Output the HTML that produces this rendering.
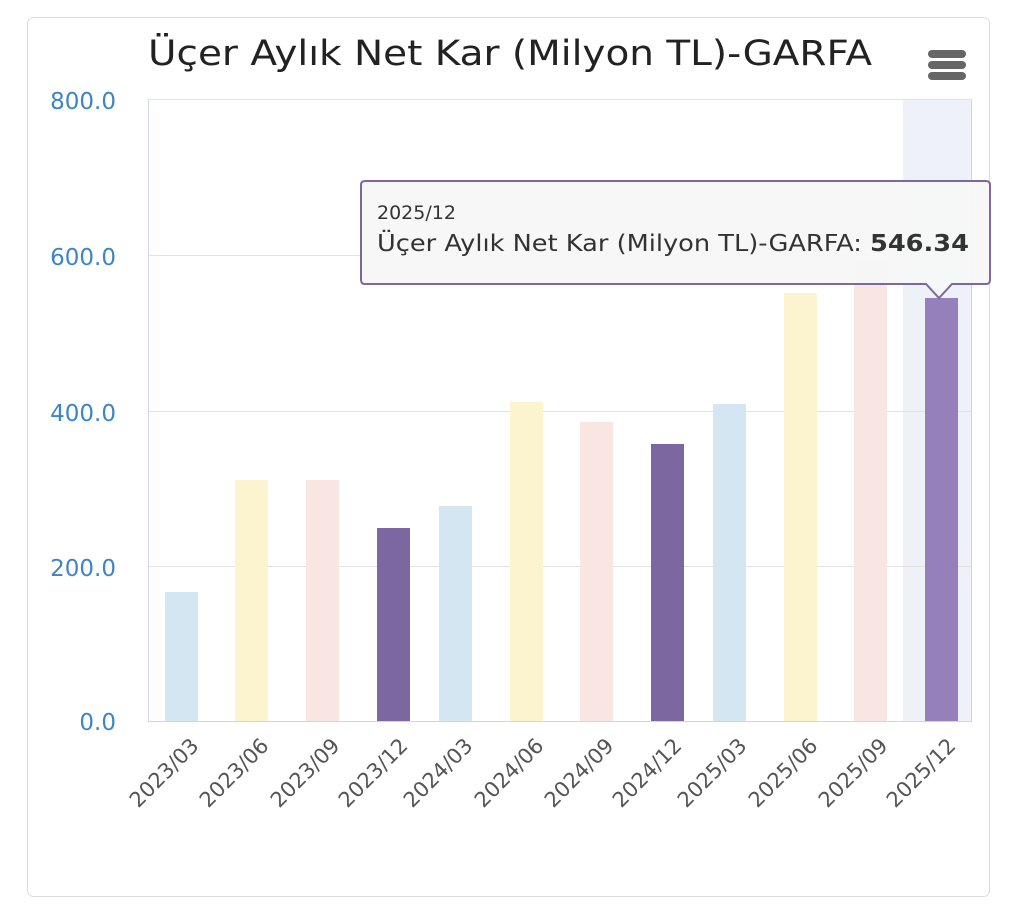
<!DOCTYPE html>
<html><head><meta charset="utf-8"><style>
html,body{margin:0;padding:0;background:#fff;}
svg{display:block;font-family:"DejaVu Sans","Liberation Sans",sans-serif;}
</style></head><body>
<svg width="1024" height="920" xmlns="http://www.w3.org/2000/svg">
<rect x="27.5" y="17.5" width="962" height="879" rx="6" fill="#fff" stroke="#ddd"/>
<text x="148" y="65" font-size="35" fill="#222" textLength="724" lengthAdjust="spacingAndGlyphs">Üçer Aylık Net Kar (Milyon TL)-GARFA</text>
<g fill="#666"><rect x="928" y="50" width="38" height="8" rx="4"/><rect x="928" y="61" width="38" height="8" rx="4"/><rect x="928" y="72" width="38" height="8" rx="4"/></g>
<rect x="903" y="99" width="69" height="622" fill="#eef2f8"/>
<g stroke="#e3e3e3"><line x1="148" y1="99.5" x2="972" y2="99.5"/><line x1="148" y1="255.5" x2="972" y2="255.5"/><line x1="148" y1="411.5" x2="972" y2="411.5"/><line x1="148" y1="566.5" x2="972" y2="566.5"/></g>
<line x1="148.5" y1="99" x2="148.5" y2="721" stroke="#ccd6eb"/>
<line x1="971.5" y1="99" x2="971.5" y2="721" stroke="#ccd6eb"/>
<g>
<rect x="165" y="592" width="33" height="129" fill="#d4e6f1"/>
<rect x="235" y="480" width="33" height="241" fill="#fcf3cf"/>
<rect x="306" y="480" width="33" height="241" fill="#f9e5e1"/>
<rect x="377" y="528" width="33" height="193" fill="#7d67a0"/>
<rect x="439" y="506" width="33" height="215" fill="#d4e6f1"/>
<rect x="510" y="402" width="33" height="319" fill="#fcf3cf"/>
<rect x="580" y="422" width="33" height="299" fill="#f9e5e1"/>
<rect x="651" y="444" width="33" height="277" fill="#7d67a0"/>
<rect x="713" y="404" width="33" height="317" fill="#d4e6f1"/>
<rect x="784" y="293" width="33" height="428" fill="#fcf3cf"/>
<rect x="854" y="262" width="33" height="459" fill="#f9e5e1"/>
<rect x="925" y="298" width="33" height="423" fill="#9580bb"/>
</g>
<line x1="148" y1="721.5" x2="972" y2="721.5" stroke="#ccd6eb"/>
<g font-size="23" fill="#3d85c6" text-anchor="end">
<text x="116" y="109">800.0</text><text x="116" y="265">600.0</text><text x="116" y="421">400.0</text><text x="116" y="576">200.0</text><text x="116" y="730">0.0</text>
</g>
<g font-size="21" fill="#555" text-anchor="end">
<text transform="translate(200,747) rotate(-45)">2023/03</text>
<text transform="translate(270,747) rotate(-45)">2023/06</text>
<text transform="translate(341,747) rotate(-45)">2023/09</text>
<text transform="translate(409,747) rotate(-45)">2023/12</text>
<text transform="translate(474,747) rotate(-45)">2024/03</text>
<text transform="translate(545,747) rotate(-45)">2024/06</text>
<text transform="translate(615,747) rotate(-45)">2024/09</text>
<text transform="translate(683,747) rotate(-45)">2024/12</text>
<text transform="translate(748,747) rotate(-45)">2025/03</text>
<text transform="translate(819,747) rotate(-45)">2025/06</text>
<text transform="translate(889,747) rotate(-45)">2025/09</text>
<text transform="translate(957,747) rotate(-45)">2025/12</text>
</g>
<path d="M365,181 H986 Q990,181 990,185 V280 Q990,284 986,284 H952 L939,298 L926,284 H365 Q361,284 361,280 V185 Q361,181 365,181 Z" fill="#f7f7f7" fill-opacity="0.94" stroke="#7d67a0" stroke-width="2"/>
<text x="377" y="219" font-size="19" fill="#333">2025/12</text>
<text x="377" y="251" font-size="23" fill="#333" textLength="592" lengthAdjust="spacingAndGlyphs">Üçer Aylık Net Kar (Milyon TL)-GARFA: <tspan font-weight="bold">546.34</tspan></text>
</svg>
</body></html>
